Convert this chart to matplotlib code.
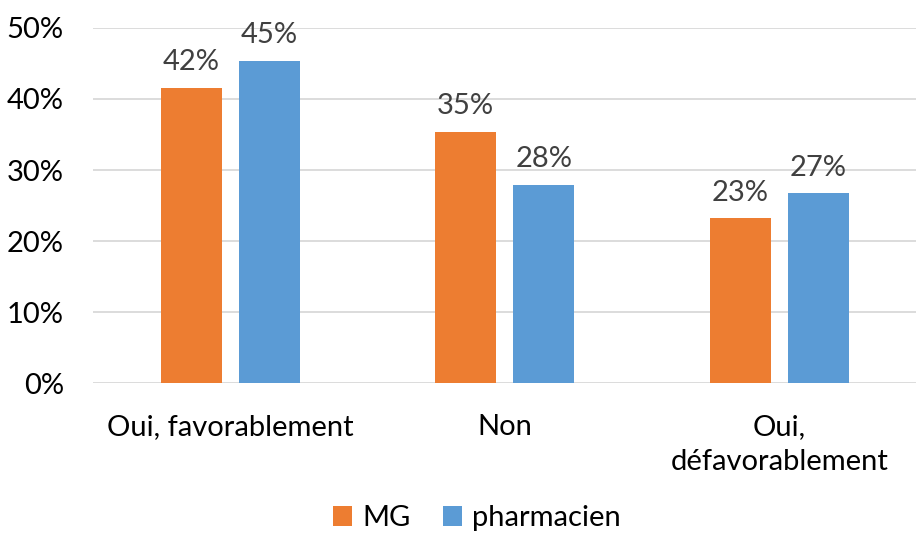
import numpy as np
import matplotlib
matplotlib.use("Agg")
import matplotlib.pyplot as plt

categories = ["Oui, favorablement", "Non", "Oui,\ndéfavorablement"]
series_names = ["MG", "pharmacien"]
mg = [41.6, 35.4, 23.2]
pharmacien = [45.4, 27.9, 26.7]
yticks = [0, 10, 20, 30, 40, 50]

plt.rcParams['font.family'] = ['Lato', 'DejaVu Sans']
fs = 21

fig = plt.figure(figsize=(9.17, 5.38), dpi=100)
ax = fig.add_axes([0.1014, 0.288, 0.898, 0.66])

x = np.arange(len(categories))
w = 0.222
off = 0.142
b1 = ax.bar(x - off, mg, w, color='#ED7D31', label=series_names[0], zorder=3)
b2 = ax.bar(x + off, pharmacien, w, color='#5B9BD5', label=series_names[1], zorder=3)

for bars, vals in [(b1, mg), (b2, pharmacien)]:
    for rect, v in zip(bars, vals):
        ax.text(rect.get_x() + rect.get_width() / 2, v + 1.8, f"{v:.0f}%",
                ha='center', va='bottom', fontsize=fs, color='#404040')

ax.set_xlim(-0.5, 2.5)
ax.set_ylim(0, 50)
ax.set_yticks(yticks)
ax.set_yticklabels([f"{t}%" for t in yticks], fontsize=fs, color='black')
ax.set_xticks(x)
ax.set_xticklabels(categories, fontsize=fs, color='black', linespacing=1.45, va='top')
ax.tick_params(axis='both', length=0)
ax.tick_params(axis='y', pad=21)
ax.tick_params(axis='x', pad=22)
ax.yaxis.grid(True, color='#D9D9D9', linewidth=1.3, zorder=0)
for s in ax.spines.values():
    s.set_visible(False)

fig.legend(loc='center', bbox_to_anchor=(0.52, 0.037), ncol=2, frameon=False,
           fontsize=fs, handlelength=0.65, handleheight=0.65, handletextpad=0.35,
           columnspacing=1.1, labelcolor='black', borderpad=0.1)

fig.savefig("out.png", dpi=100)
